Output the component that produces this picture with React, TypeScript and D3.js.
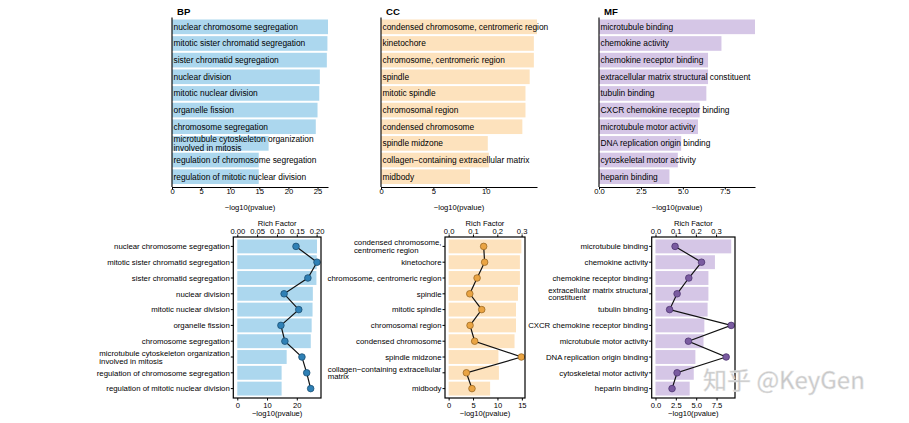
import React, { useEffect, useRef } from 'react';
import * as d3 from 'd3';

// ---- data ----
const bpTerms = [
  'nuclear chromosome segregation',
  'mitotic sister chromatid segregation',
  'sister chromatid segregation',
  'nuclear division',
  'mitotic nuclear division',
  'organelle fission',
  'chromosome segregation',
  'microtubule cytoskeleton organization\ninvolved in mitosis',
  'regulation of chromosome segregation',
  'regulation of mitotic nuclear division',
];
const bpLog10P = [26.8, 26.7, 26.6, 25.4, 25.3, 25.0, 24.7, 16.6, 14.9, 14.9];
const bpRichFactor = [0.148, 0.201, 0.178, 0.118, 0.155, 0.11, 0.12, 0.163, 0.175, 0.185];

const ccTerms = [
  'condensed chromosome, centromeric region',
  'kinetochore',
  'chromosome, centromeric region',
  'spindle',
  'mitotic spindle',
  'chromosomal region',
  'condensed chromosome',
  'spindle midzone',
  'collagen−containing extracellular matrix',
  'midbody',
];
const ccBottomLabels = [
  'condensed chromosome,\ncentromeric region',
  'kinetochore',
  'chromosome, centromeric region',
  'spindle',
  'mitotic spindle',
  'chromosomal region',
  'condensed chromosome',
  'spindle midzone',
  'collagen−containing extracellular\nmatrix',
  'midbody',
];
const ccLog10P = [14.9, 14.6, 14.6, 14.2, 13.8, 13.8, 13.5, 10.2, 10.3, 8.5];
const ccRichFactor = [0.144, 0.148, 0.117, 0.087, 0.136, 0.088, 0.107, 0.299, 0.073, 0.096];

const mfTerms = [
  'microtubule binding',
  'chemokine activity',
  'chemokine receptor binding',
  'extracellular matrix structural constituent',
  'tubulin binding',
  'CXCR chemokine receptor binding',
  'microtubule motor activity',
  'DNA replication origin binding',
  'cytoskeletal motor activity',
  'heparin binding',
];
const mfBottomLabels = [
  'microtubule binding',
  'chemokine activity',
  'chemokine receptor binding',
  'extracellular matrix structural\nconstituent',
  'tubulin binding',
  'CXCR chemokine receptor binding',
  'microtubule motor activity',
  'DNA replication origin binding',
  'cytoskeletal motor activity',
  'heparin binding',
];
const mfLog10P = [9.3, 7.3, 6.5, 6.5, 6.4, 6.0, 5.9, 4.9, 4.7, 4.2];
const mfRichFactor = [0.097, 0.228, 0.165, 0.107, 0.07, 0.375, 0.163, 0.35, 0.107, 0.082];

const bpTopTicks = [0, 5, 10, 15, 20, 25];
const ccTopTicks = [0, 5, 10];
const mfTopTicks = [0, 2.5, 5, 7.5];
const bpPTicks = [0, 10, 20];
const ccPTicks = [0, 5, 10, 15];
const mfPTicks = [0, 2.5, 5, 7.5];
const bpRichTicks = [0, 0.05, 0.1, 0.15, 0.2];
const ccRichTicks = [0, 0.1, 0.2, 0.3];
const mfRichTicks = [0, 0.1, 0.2, 0.3];

const FONT = 'Liberation Sans, Arial, Helvetica, sans-serif';

interface Panel {
  name: string;
  terms: string[];
  bottomLabels: string[];
  pval: number[];
  rich: number[];
  topTicks: number[];
  pTicks: number[];
  richTicks: number[];
  pFmt: string;
  richFmt: string;
  bar: string;
  dot: string;
  dotStroke: string;
  topX: number;
  frame: [number, number];
}

const panels: Panel[] = [
  {
    name: 'BP', terms: bpTerms, bottomLabels: bpTerms, pval: bpLog10P, rich: bpRichFactor,
    topTicks: bpTopTicks, pTicks: bpPTicks, richTicks: bpRichTicks, pFmt: 'd', richFmt: '.2f',
    bar: '#acd7ee', dot: '#2f80b5', dotStroke: '#1b4f73', topX: 172, frame: [233.3, 321],
  },
  {
    name: 'CC', terms: ccTerms, bottomLabels: ccBottomLabels, pval: ccLog10P, rich: ccRichFactor,
    topTicks: ccTopTicks, pTicks: ccPTicks, richTicks: ccRichTicks, pFmt: 'd', richFmt: '.1f',
    bar: '#fde2bd', dot: '#eaa443', dotStroke: '#9c6a25', topX: 381, frame: [445, 525],
  },
  {
    name: 'MF', terms: mfTerms, bottomLabels: mfBottomLabels, pval: mfLog10P, rich: mfRichFactor,
    topTicks: mfTopTicks, pTicks: mfPTicks, richTicks: mfRichTicks, pFmt: '.1f', richFmt: '.1f',
    bar: '#d5c6e6', dot: '#7a5ba0', dotStroke: '#4c3470', topX: 599, frame: [651.7, 735],
  },
];

const App: React.FC = () => {
  const svgRef = useRef<SVGSVGElement | null>(null);

  useEffect(() => {
    if (!svgRef.current) return;
    const svg = d3.select(svgRef.current);
    svg.selectAll('*').remove();

    const topWidth = 156;
    const topAxisY = 187;
    const frameTop = 237;
    const frameBottom = 398;

    panels.forEach((p) => {
      const idx = p.terms.map((_, i) => i);
      const maxP = d3.max(p.pval) || 1;

      // ---------- top: plain bar chart ----------
      const xt = d3.scaleLinear().domain([0, maxP]).range([p.topX, p.topX + topWidth]);
      const yt = d3
        .scaleBand<number>()
        .domain(idx)
        .range([18.5, 185])
        .paddingInner(0.12)
        .paddingOuter(0.06);

      const gt = svg.append('g');
      gt.selectAll('rect')
        .data(idx)
        .enter()
        .append('rect')
        .attr('x', xt(0))
        .attr('y', (i) => yt(i)!)
        .attr('width', (i) => xt(p.pval[i]) - xt(0))
        .attr('height', yt.bandwidth())
        .attr('fill', p.bar);

      idx.forEach((i) => {
        const lines = p.terms[i].split('\n');
        const cy = yt(i)! + yt.bandwidth() / 2;
        const t = gt
          .append('text')
          .attr('x', xt(0) + 1.5)
          .attr('y', cy - ((lines.length - 1) * 8.4) / 2)
          .attr('font-family', FONT)
          .attr('font-size', 8.4)
          .attr('fill', '#000');
        lines.forEach((ln, k) => {
          t.append('tspan')
            .attr('x', xt(0) + 1.5)
            .attr('dy', k === 0 ? '0.35em' : 8.4)
            .text(ln);
        });
      });

      const xAxisTop = d3
        .axisBottom(xt)
        .tickValues(p.topTicks)
        .tickSize(2.5)
        .tickSizeOuter(0)
        .tickFormat((d) => d3.format(p.pFmt)(d as number));
      const ax = gt.append('g').attr('transform', `translate(0,${topAxisY})`).call(xAxisTop);
      ax.select('.domain').attr('stroke', '#000').attr('stroke-width', 1.1);
      ax.selectAll('.tick line').attr('stroke', '#000').attr('stroke-width', 1);
      ax.selectAll('.tick text')
        .attr('fill', '#000')
        .attr('dy', '0.4em')
        .attr('y', 4)
        .style('font-size', '7.6px')
        .style('font-family', FONT);

      gt.append('line')
        .attr('x1', xt(0))
        .attr('x2', xt(0))
        .attr('y1', 17.5)
        .attr('y2', topAxisY)
        .attr('stroke', '#000')
        .attr('stroke-width', 1.1);

      gt.append('text')
        .attr('x', (p.topX + p.topX + topWidth) / 2)
        .attr('y', 210)
        .attr('text-anchor', 'middle')
        .attr('font-family', FONT)
        .attr('font-size', 7.6)
        .text('−log10(pvalue)');

      gt.append('text')
        .attr('x', p.topX + 5)
        .attr('y', 15)
        .attr('font-family', FONT)
        .attr('font-size', 9.6)
        .attr('font-weight', 'bold')
        .text(p.name);

      // ---------- bottom: bars + rich factor line ----------
      const [fl, fr] = p.frame;
      const xb = d3
        .scaleLinear()
        .domain([-0.05 * maxP, 1.05 * maxP])
        .range([fl, fr]);
      const k = (d3.max(p.rich) || 1) / maxP;
      const xr = d3
        .scaleLinear()
        .domain([-0.05 * maxP * k, 1.05 * maxP * k])
        .range([fl, fr]);
      const yb = d3
        .scaleBand<number>()
        .domain(idx)
        .range([frameTop + 1.5, frameBottom - 1.5])
        .paddingInner(0.12)
        .paddingOuter(0.06);

      const gb = svg.append('g');
      gb.selectAll('rect.bar')
        .data(idx)
        .enter()
        .append('rect')
        .attr('class', 'bar')
        .attr('x', xb(0))
        .attr('y', (i) => yb(i)!)
        .attr('width', (i) => xb(p.pval[i]) - xb(0))
        .attr('height', yb.bandwidth())
        .attr('fill', p.bar);

      const line = d3
        .line<number>()
        .x((i) => xr(p.rich[i]))
        .y((i) => yb(i)! + yb.bandwidth() / 2);

      gb.append('path')
        .datum(idx)
        .attr('fill', 'none')
        .attr('stroke', '#111')
        .attr('stroke-width', 1.2)
        .attr('d', line);

      gb.selectAll('circle')
        .data(idx)
        .enter()
        .append('circle')
        .attr('cx', (i) => xr(p.rich[i]))
        .attr('cy', (i) => yb(i)! + yb.bandwidth() / 2)
        .attr('r', 3.3)
        .attr('fill', p.dot)
        .attr('stroke', p.dotStroke)
        .attr('stroke-width', 0.8);

      gb.append('rect')
        .attr('x', fl)
        .attr('y', frameTop)
        .attr('width', fr - fl)
        .attr('height', frameBottom - frameTop)
        .attr('fill', 'none')
        .attr('stroke', '#000')
        .attr('stroke-width', 1.2);

      // bottom axis (-log10 pvalue)
      const axB = gb
        .append('g')
        .attr('transform', `translate(0,${frameBottom})`)
        .call(
          d3
            .axisBottom(xb)
            .tickValues(p.pTicks)
            .tickSize(2.5)
            .tickSizeOuter(0)
            .tickFormat((d) => d3.format(p.pFmt)(d as number))
        );
      axB.select('.domain').remove();
      axB.selectAll('.tick line').attr('stroke', '#000');
      axB.selectAll('.tick text')
        .attr('fill', '#000')
        .attr('y', 4)
        .attr('dy', '0.75em')
        .style('font-size', '7.6px')
        .style('font-family', FONT);

      // top axis (rich factor)
      const axT = gb
        .append('g')
        .attr('transform', `translate(0,${frameTop})`)
        .call(
          d3
            .axisTop(xr)
            .tickValues(p.richTicks)
            .tickSize(2.5)
            .tickSizeOuter(0)
            .tickFormat((d) => d3.format(p.richFmt)(d as number))
        );
      axT.select('.domain').remove();
      axT.selectAll('.tick line').attr('stroke', '#000');
      axT.selectAll('.tick text')
        .attr('fill', '#000')
        .attr('y', -3.5)
        .attr('dy', 0)
        .style('font-size', '7.6px')
        .style('font-family', FONT);

      gb.append('text')
        .attr('x', (fl + fr) / 2)
        .attr('y', 225.5)
        .attr('text-anchor', 'middle')
        .attr('font-family', FONT)
        .attr('font-size', 7.6)
        .text('Rich Factor');

      gb.append('text')
        .attr('x', (fl + fr) / 2)
        .attr('y', 416)
        .attr('text-anchor', 'middle')
        .attr('font-family', FONT)
        .attr('font-size', 7.6)
        .text('−log10(pvalue)');

      // y ticks and category labels
      idx.forEach((i) => {
        const cy = yb(i)! + yb.bandwidth() / 2;
        gb.append('line')
          .attr('x1', fl - 2.5)
          .attr('x2', fl)
          .attr('y1', cy)
          .attr('y2', cy)
          .attr('stroke', '#000');
        const lines = p.bottomLabels[i].split('\n');
        const right = fl - 3.5;
        const lh = 7.6;
        const t = gb
          .append('text')
          .attr('font-family', FONT)
          .attr('font-size', 7.8)
          .attr('fill', '#000');
        lines.forEach((ln, j) => {
          t.append('tspan')
            .attr('x', 0)
            .attr('dy', j === 0 ? '0.35em' : lh)
            .text(ln);
        });
        if (lines.length === 1) {
          t.attr('text-anchor', 'end').attr('transform', `translate(${right},${cy})`);
        } else {
          const w = (t.node() as SVGTextElement).getBBox().width;
          t.attr('text-anchor', 'start').attr(
            'transform',
            `translate(${right - w},${cy - ((lines.length - 1) * lh) / 2})`
          );
        }
      });
    });

    // watermark
    svg
      .append('text')
      .attr('x', 703)
      .attr('y', 389)
      .attr('font-family', 'Noto Sans CJK SC, Noto Sans, sans-serif')
      .attr('font-size', 24)
      .attr('fill', '#c6c6c6')
      .attr('stroke', '#e6e6e6')
      .attr('stroke-width', 0.5)
      .text('知乎 @KeyGen');
  }, []);

  return (
    <svg
      ref={svgRef}
      width={909}
      height={423}
      style={{ position: 'absolute', left: 0, top: 0, background: '#fff', display: 'block' }}
    />
  );
};

export default App;
